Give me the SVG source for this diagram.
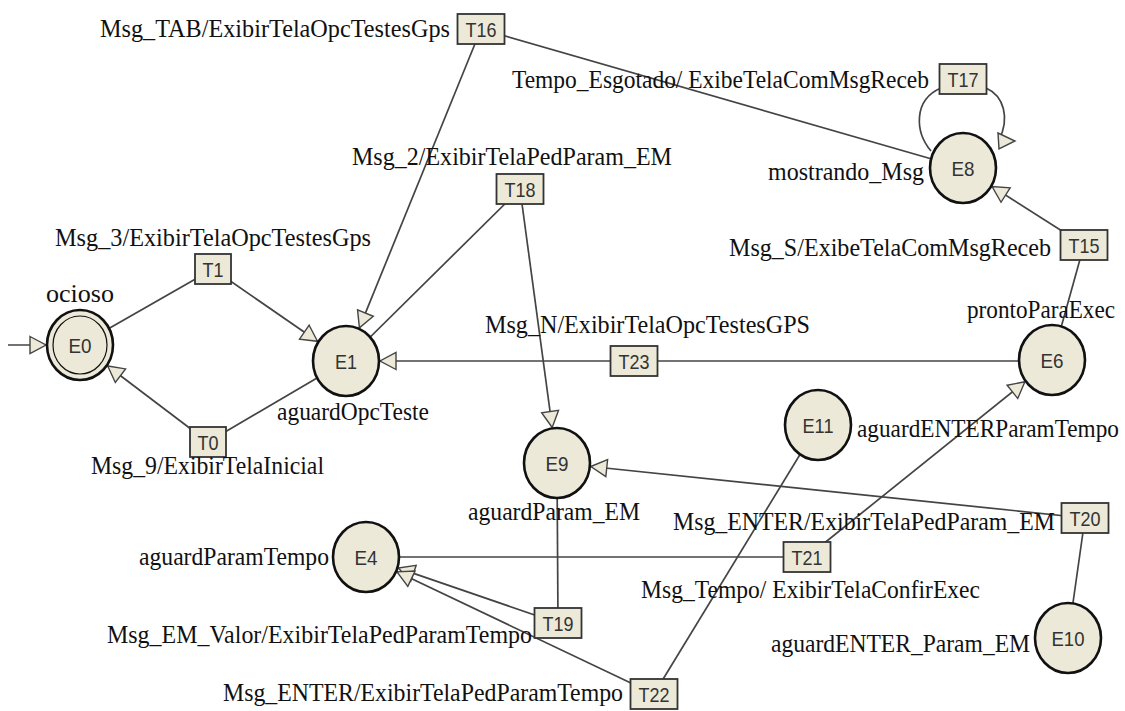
<svg xmlns="http://www.w3.org/2000/svg" width="1125" height="711" viewBox="0 0 1125 711">
<style>
.lbl{font-family:"Liberation Serif","Times New Roman",serif;font-size:26px;fill:#111}
.nid{font-family:"Liberation Sans",Arial,sans-serif;font-size:21px;fill:#333;text-anchor:middle}
.st{fill:#ECE9D8;stroke:#111;stroke-width:2.6}
.in{fill:none;stroke:#111;stroke-width:1.2}
.bx{fill:#ECE9D8;stroke:#333;stroke-width:1.8}
.cn{stroke:#444;stroke-width:1.7;fill:none}
.ar{marker-end:url(#ah)}
</style>
<defs>
<marker id="ah" markerUnits="userSpaceOnUse" markerWidth="20" markerHeight="20" viewBox="0 0 20 20" refX="18" refY="10" orient="auto">
<path d="M2,1.5 L18,10 L2,18.5 z" fill="#ECE9D8" stroke="#444" stroke-width="1.4"/>
</marker>
</defs>
<rect width="1125" height="711" fill="#fff"/>
<g id="connectors">
<line class="cn ar" x1="8" y1="345" x2="46" y2="345"/>
<line class="cn" x1="80" y1="345" x2="213" y2="269"/>
<line class="cn ar" x1="213" y1="269" x2="317.5" y2="341.3"/>
<line class="cn" x1="346" y1="361" x2="208" y2="442"/>
<line class="cn ar" x1="208" y1="442" x2="107.7" y2="366"/>
<line class="cn" x1="963" y1="168" x2="481" y2="29"/>
<line class="cn ar" x1="481" y1="29" x2="359.4" y2="327.9"/>
<line class="cn" x1="346" y1="361" x2="520" y2="189"/>
<line class="cn ar" x1="520" y1="189" x2="552.2" y2="427.4"/>
<line class="cn" x1="1052" y1="361" x2="634" y2="361"/>
<line class="cn ar" x1="634" y1="361" x2="380" y2="361"/>
<line class="cn" x1="1052" y1="360" x2="1084" y2="245"/>
<line class="cn ar" x1="1084" y1="245" x2="992.1" y2="186.5"/>
<path class="cn" d="M931,151 C915,132 913,100 941,88"/>
<path class="cn" d="M986,88 C1004,96 1010,118 999,140"/>
<polygon points="998,133 999,149 1015,141" fill="#ECE9D8" stroke="#444" stroke-width="1.4"/>
<line class="cn" x1="557" y1="463" x2="558" y2="623"/>
<line class="cn ar" x1="558" y1="623" x2="398.3" y2="568.1"/>
<line class="cn" x1="818" y1="425" x2="654" y2="694"/>
<line class="cn ar" x1="654" y1="694" x2="397" y2="571.8"/>
<line class="cn" x1="1068" y1="638" x2="1085" y2="518"/>
<line class="cn ar" x1="1085" y1="518" x2="590.8" y2="466.5"/>
<line class="cn" x1="366" y1="557" x2="807" y2="557"/>
<line class="cn ar" x1="807" y1="557" x2="1024.9" y2="381.8"/>
</g>
<g id="T16"><rect class="bx" x="457.5" y="14" width="47" height="30"/><text class="nid" x="481" y="36.5" textLength="31" lengthAdjust="spacingAndGlyphs">T16</text><text class="lbl" x="450" y="37" text-anchor="end" textLength="350" lengthAdjust="spacingAndGlyphs">Msg_TAB/ExibirTelaOpcTestesGps</text></g>
<g id="T17"><rect class="bx" x="939.5" y="64" width="47" height="30"/><text class="nid" x="963" y="86.5" textLength="31" lengthAdjust="spacingAndGlyphs">T17</text><text class="lbl" x="929" y="88" text-anchor="end" textLength="417" lengthAdjust="spacingAndGlyphs">Tempo_Esgotado/ ExibeTelaComMsgReceb</text></g>
<g id="T18"><rect class="bx" x="496.5" y="174" width="47" height="30"/><text class="nid" x="520" y="196.5" textLength="31" lengthAdjust="spacingAndGlyphs">T18</text><text class="lbl" x="352" y="165" textLength="320" lengthAdjust="spacingAndGlyphs">Msg_2/ExibirTelaPedParam_EM</text></g>
<g id="T1"><rect class="bx" x="195" y="254" width="36" height="30"/><text class="nid" x="213" y="276.5" textLength="21" lengthAdjust="spacingAndGlyphs">T1</text><text class="lbl" x="55" y="246" textLength="316" lengthAdjust="spacingAndGlyphs">Msg_3/ExibirTelaOpcTestesGps</text></g>
<g id="T15"><rect class="bx" x="1060.5" y="230" width="47" height="30"/><text class="nid" x="1084" y="252.5" textLength="31" lengthAdjust="spacingAndGlyphs">T15</text><text class="lbl" x="1051" y="256" text-anchor="end" textLength="322" lengthAdjust="spacingAndGlyphs">Msg_S/ExibeTelaComMsgReceb</text></g>
<g id="T23"><rect class="bx" x="610.5" y="346" width="47" height="30"/><text class="nid" x="634" y="368.5" textLength="31" lengthAdjust="spacingAndGlyphs">T23</text><text class="lbl" x="485" y="333" textLength="325" lengthAdjust="spacingAndGlyphs">Msg_N/ExibirTelaOpcTestesGPS</text></g>
<g id="T0"><rect class="bx" x="190" y="427" width="36" height="30"/><text class="nid" x="208" y="449.5" textLength="21" lengthAdjust="spacingAndGlyphs">T0</text><text class="lbl" x="91" y="474" textLength="233" lengthAdjust="spacingAndGlyphs">Msg_9/ExibirTelaInicial</text></g>
<g id="T20"><rect class="bx" x="1061.5" y="503" width="47" height="30"/><text class="nid" x="1085" y="525.5" textLength="31" lengthAdjust="spacingAndGlyphs">T20</text><text class="lbl" x="673" y="530" textLength="382" lengthAdjust="spacingAndGlyphs">Msg_ENTER/ExibirTelaPedParam_EM</text></g>
<g id="T21"><rect class="bx" x="783.5" y="542" width="47" height="30"/><text class="nid" x="807" y="564.5" textLength="31" lengthAdjust="spacingAndGlyphs">T21</text><text class="lbl" x="641" y="598" textLength="339" lengthAdjust="spacingAndGlyphs">Msg_Tempo/ ExibirTelaConfirExec</text></g>
<g id="T19"><rect class="bx" x="534.5" y="608" width="47" height="30"/><text class="nid" x="558" y="630.5" textLength="31" lengthAdjust="spacingAndGlyphs">T19</text><text class="lbl" x="107" y="643" textLength="425" lengthAdjust="spacingAndGlyphs">Msg_EM_Valor/ExibirTelaPedParamTempo</text></g>
<g id="T22"><rect class="bx" x="630.5" y="679" width="47" height="30"/><text class="nid" x="654" y="701.5" textLength="31" lengthAdjust="spacingAndGlyphs">T22</text><text class="lbl" x="223" y="701" textLength="400" lengthAdjust="spacingAndGlyphs">Msg_ENTER/ExibirTelaPedParamTempo</text></g>
<g id="E0"><ellipse class="st" cx="80" cy="345" rx="33" ry="35"/><ellipse class="in" cx="80" cy="345" rx="27" ry="29"/><text class="nid" x="80" y="352.5" textLength="23" lengthAdjust="spacingAndGlyphs">E0</text><text class="lbl" x="46" y="302" textLength="68" lengthAdjust="spacingAndGlyphs">ocioso</text></g>
<g id="E1"><ellipse class="st" cx="346" cy="361" rx="33" ry="35"/><text class="nid" x="346" y="368.5" textLength="22" lengthAdjust="spacingAndGlyphs">E1</text><text class="lbl" x="277" y="420" textLength="152" lengthAdjust="spacingAndGlyphs">aguardOpcTeste</text></g>
<g id="E8"><ellipse class="st" cx="963" cy="168" rx="33" ry="35"/><text class="nid" x="963" y="175.5" textLength="23" lengthAdjust="spacingAndGlyphs">E8</text><text class="lbl" x="924" y="180" text-anchor="end" textLength="156" lengthAdjust="spacingAndGlyphs">mostrando_Msg</text></g>
<g id="E6"><ellipse class="st" cx="1052" cy="360" rx="33" ry="35"/><text class="nid" x="1052" y="367.5" textLength="23" lengthAdjust="spacingAndGlyphs">E6</text><text class="lbl" x="967" y="318" textLength="148" lengthAdjust="spacingAndGlyphs">prontoParaExec</text></g>
<g id="E11"><ellipse class="st" cx="818" cy="425" rx="33" ry="35"/><text class="nid" x="818" y="432.5" textLength="31" lengthAdjust="spacingAndGlyphs">E11</text><text class="lbl" x="857" y="437" textLength="262" lengthAdjust="spacingAndGlyphs">aguardENTERParamTempo</text></g>
<g id="E9"><ellipse class="st" cx="557" cy="463" rx="33" ry="35"/><text class="nid" x="557" y="470.5" textLength="23" lengthAdjust="spacingAndGlyphs">E9</text><text class="lbl" x="468" y="520" textLength="172" lengthAdjust="spacingAndGlyphs">aguardParam_EM</text></g>
<g id="E4"><ellipse class="st" cx="366" cy="557" rx="33" ry="35"/><text class="nid" x="366" y="564.5" textLength="23" lengthAdjust="spacingAndGlyphs">E4</text><text class="lbl" x="329" y="565" text-anchor="end" textLength="190" lengthAdjust="spacingAndGlyphs">aguardParamTempo</text></g>
<g id="E10"><ellipse class="st" cx="1068" cy="638" rx="33" ry="35"/><text class="nid" x="1068" y="645.5" textLength="33" lengthAdjust="spacingAndGlyphs">E10</text><text class="lbl" x="1030" y="652" text-anchor="end" textLength="259" lengthAdjust="spacingAndGlyphs">aguardENTER_Param_EM</text></g>
</svg>
